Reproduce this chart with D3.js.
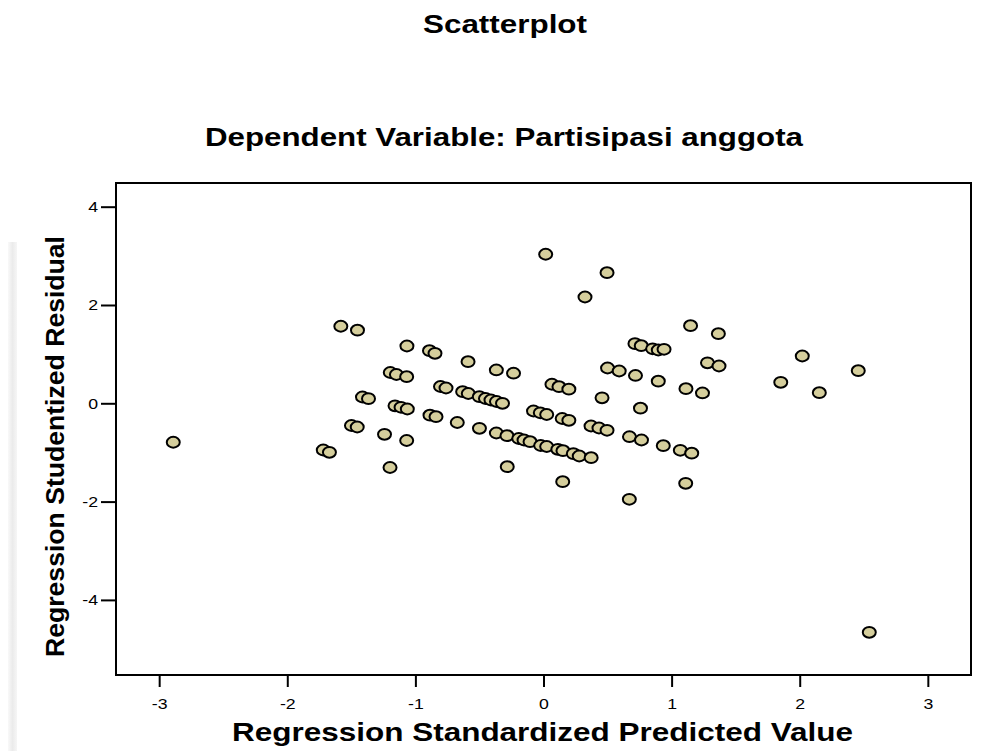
<!DOCTYPE html>
<html><head><meta charset="utf-8">
<script src="https://cdn.jsdelivr.net/npm/d3@7"></script>
<style>body{margin:0;background:#fff}</style>
</head><body>
<svg id="chart" width="986" height="751"></svg>
<script>
const predicted = [-2.890,-1.719,-1.671,-1.582,-1.452,-1.499,-1.454,-1.413,-1.366,-1.241,
  -1.198,-1.196,-1.148,-1.068,-1.159,-1.112,-1.063,-1.066,-1.068,-0.890,
  -0.847,-0.886,-0.839,-0.804,-0.761,-0.673,-0.631,-0.587,-0.501,-0.453,
  -0.410,-0.367,-0.320,-0.589,-0.368,-0.234,-0.500,-0.368,-0.285,-0.193,
  -0.152,-0.105,-0.022,0.025,0.112,0.152,0.233,0.279,0.372,-0.283,
  -0.078,-0.025,0.025,0.146,0.198,0.371,0.433,0.496,0.066,0.121,
  0.198,0.017,0.496,0.324,0.150,0.457,0.500,0.591,0.718,0.896,
  0.714,0.763,0.852,0.896,0.941,0.757,0.671,0.765,0.935,1.068,
  1.157,0.670,1.110,1.148,1.365,1.280,1.370,1.112,1.241,2.020,
  2.457,1.852,2.153,2.543];
const residual = [-0.793,-0.950,-0.997,1.567,1.487,-0.452,-0.482,0.128,0.094,-0.631,
  -1.306,0.627,0.586,0.541,-0.051,-0.081,-0.116,1.166,-0.757,1.070,
  1.017,-0.242,-0.273,0.342,0.311,-0.391,0.236,0.199,0.134,0.098,
  0.067,0.037,0.000,0.846,0.678,0.612,-0.509,-0.604,-0.659,-0.716,
  -0.747,-0.781,-0.859,-0.879,-0.936,-0.964,-1.025,-1.072,-1.107,-1.290,
  -0.157,-0.193,-0.228,-0.309,-0.346,-0.462,-0.503,-0.549,0.387,0.338,
  0.287,3.032,2.657,2.163,-1.595,0.112,0.718,0.657,0.566,0.450,
  1.213,1.172,1.109,1.084,1.099,-0.100,-0.680,-0.747,-0.863,-0.956,
  -1.015,-1.953,-1.628,1.579,1.416,0.824,0.759,0.297,0.210,0.962,
  0.663,0.427,0.216,-4.659];
const xTicks = [-3,-2,-1,0,1,2,3];
const yTicks = [-4,-2,0,2,4];
const titleText = "Scatterplot";
const subtitleText = "Dependent Variable: Partisipasi anggota";
const xLabelText = "Regression Standardized Predicted Value";
const yLabelText = "Regression Studentized Residual";

const svg = d3.select("#chart");
const font = "'Liberation Sans', Arial, Helvetica, sans-serif";
const SX = 1.18; // horizontal stretch of the original picture

const plot = {left:116, right:971, top:183, bottom:675};
const x = d3.scaleLinear().domain([-3.337, 3.337]).range([plot.left, plot.right]);
const y = d3.scaleLinear().domain([-5.528, 4.482]).range([plot.bottom, plot.top]);

// faint gray strip at the left edge
const defs = svg.append("defs");
const grad = defs.append("linearGradient").attr("id","strip").attr("x1","0").attr("x2","1");
grad.append("stop").attr("offset","0").attr("stop-color","#f9f9f9");
grad.append("stop").attr("offset","0.5").attr("stop-color","#ebebeb");
grad.append("stop").attr("offset","1").attr("stop-color","#f6f6f6");
svg.append("rect").attr("x",8).attr("y",242).attr("width",9).attr("height",509).attr("fill","url(#strip)");

// titles
function stretchedText(txt, cx, baseline, len, size, weight){
  return svg.append("text").attr("x", cx - len/2).attr("y", baseline)
    .attr("font-family", font).attr("font-size", size).attr("font-weight", weight)
    .attr("textLength", len).attr("lengthAdjust","spacingAndGlyphs")
    .attr("fill","#000").text(txt);
}
stretchedText(titleText, 505, 33, 164, 25, "bold");
stretchedText(subtitleText, 504, 146, 598, 25, "bold");
stretchedText(xLabelText, 542.5, 741, 621, 25, "bold");

svg.append("text")
  .attr("transform", "translate(64,446.5) rotate(-90)")
  .attr("x", -210.5).attr("y", 0)
  .attr("font-family", font).attr("font-size", 26).attr("font-weight","bold")
  .attr("textLength", 421).attr("lengthAdjust","spacingAndGlyphs")
  .text(yLabelText);

// axes
const xAxis = d3.axisBottom(x).tickValues(xTicks).tickSize(12).tickSizeOuter(0).tickPadding(11)
  .tickFormat(d => String(d));
const gx = svg.append("g").attr("transform", `translate(0,${plot.bottom})`).call(xAxis);
const yAxis = d3.axisLeft(y).tickValues(yTicks).tickSize(15).tickSizeOuter(0).tickPadding(3)
  .tickFormat(d => String(d));
const gy = svg.append("g").attr("transform", `translate(${plot.left},0)`).call(yAxis);

[gx, gy].forEach(g => {
  g.select(".domain").remove();
  g.selectAll(".tick line").attr("stroke","#000").attr("stroke-width",2);
  g.selectAll(".tick text").attr("font-family", font).attr("font-size", 15).attr("fill","#000");
});
gx.selectAll(".tick text").attr("transform", `scale(${SX},1)`);
gy.selectAll(".tick text").attr("x", -18/SX).attr("transform", `scale(${SX},1)`);

// frame
svg.append("rect").attr("x", plot.left).attr("y", plot.top)
  .attr("width", plot.right - plot.left).attr("height", plot.bottom - plot.top)
  .attr("fill","none").attr("stroke","#000").attr("stroke-width",2);

// points
const pts = predicted.map((p,i) => ({p, r: residual[i]})).sort((a,b) => a.p - b.p);
svg.append("g").selectAll("ellipse").data(pts).join("ellipse")
  .attr("cx", d => x(d.p)).attr("cy", d => y(d.r))
  .attr("rx", 6.5).attr("ry", 5.4)
  .attr("fill", "#d5ce9c").attr("stroke", "#000").attr("stroke-width", 2);
</script>
</body></html>
